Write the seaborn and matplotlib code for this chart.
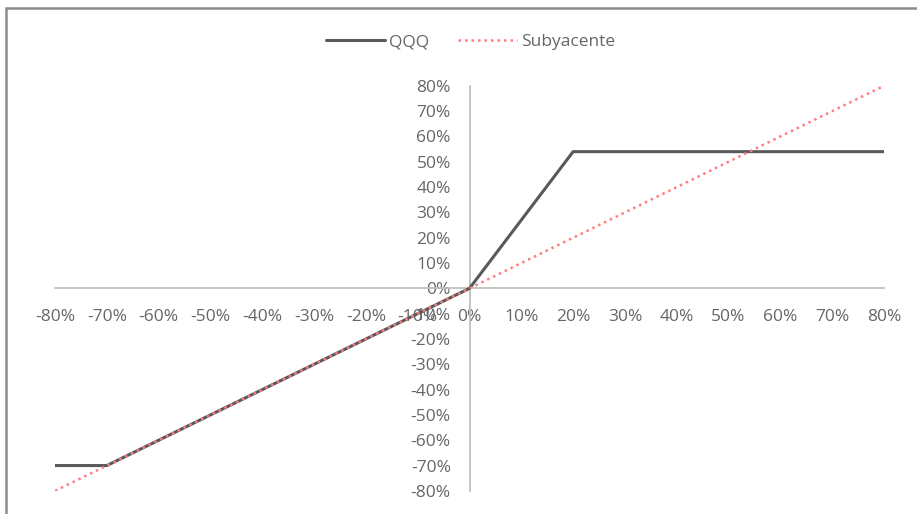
import pandas as pd
import matplotlib.pyplot as plt
import seaborn as sns
from matplotlib.ticker import FuncFormatter, MultipleLocator
from matplotlib.patches import Rectangle

# datos (en %)
movimiento = [-80, -70, -60, -50, -40, -30, -20, -10, 0, 10, 20, 30, 40, 50, 60, 70, 80]
qqq = [-70, -70, -60, -50, -40, -30, -20, -10, 0, 27, 54, 54, 54, 54, 54, 54, 54]
subyacente = [-80, -70, -60, -50, -40, -30, -20, -10, 0, 10, 20, 30, 40, 50, 60, 70, 80]

df = pd.concat([
    pd.DataFrame({'x': movimiento, 'y': qqq, 'serie': 'QQQ'}),
    pd.DataFrame({'x': movimiento, 'y': subyacente, 'serie': 'Subyacente'}),
])

sns.set_style('white')
plt.rcParams['font.family'] = ['Open Sans', 'DejaVu Sans']

fig = plt.figure(figsize=(9.17, 5.14), dpi=100)
ax = fig.add_axes([0.060, 0.045, 0.904, 0.788])

colores = {'QQQ': '#595959', 'Subyacente': '#FF7C80'}
sns.lineplot(data=df, x='x', y='y', hue='serie', palette=colores, ax=ax, legend=False,
             sort=False)
lines = ax.get_lines()
lines[0].set_linewidth(2.2)
lines[1].set_linewidth(1.8)
lines[1].set_linestyle((0, (1, 1.6)))
# el subyacente encima del QQQ
lines[0].set_zorder(2)
lines[1].set_zorder(3)

ax.set_xlim(-80, 80)
ax.set_ylim(-80, 80)
ax.spines['left'].set_position('zero')
ax.spines['bottom'].set_position('zero')
ax.spines['top'].set_visible(False)
ax.spines['right'].set_visible(False)
for s in ['left', 'bottom']:
    ax.spines[s].set_color('#BFBFBF')
    ax.spines[s].set_linewidth(1.3)
    ax.spines[s].set_zorder(1)

gris = '#666666'
fmt = FuncFormatter(lambda v, p: f'{v:.0f}%')
ax.xaxis.set_major_locator(MultipleLocator(10))
ax.yaxis.set_major_locator(MultipleLocator(10))
ax.xaxis.set_major_formatter(fmt)
ax.yaxis.set_major_formatter(fmt)
ax.tick_params(axis='x', length=0, pad=15, labelsize=12.5, labelcolor=gris)
ax.tick_params(axis='y', length=0, pad=13.5, labelsize=12.5, labelcolor=gris)
ax.set_xlabel('')
ax.set_ylabel('')
ax.patch.set_alpha(0)

# leyenda arriba
ax.legend(lines, ['QQQ', 'Subyacente'], loc='center', bbox_to_anchor=(0.513, 0.918),
          bbox_transform=fig.transFigure, ncol=2, frameon=False, handlelength=3.4,
          columnspacing=1.7, handletextpad=0.2, fontsize=12.5, labelcolor=gris)

# marco del gráfico
fig.patches.append(Rectangle((5.5 / 917, -0.1), 1.2, 1.1 - 8.5 / 514, transform=fig.transFigure,
                             fill=False, edgecolor='#8C8C8C', linewidth=1.8))

plt.savefig('out.png', dpi=100)
